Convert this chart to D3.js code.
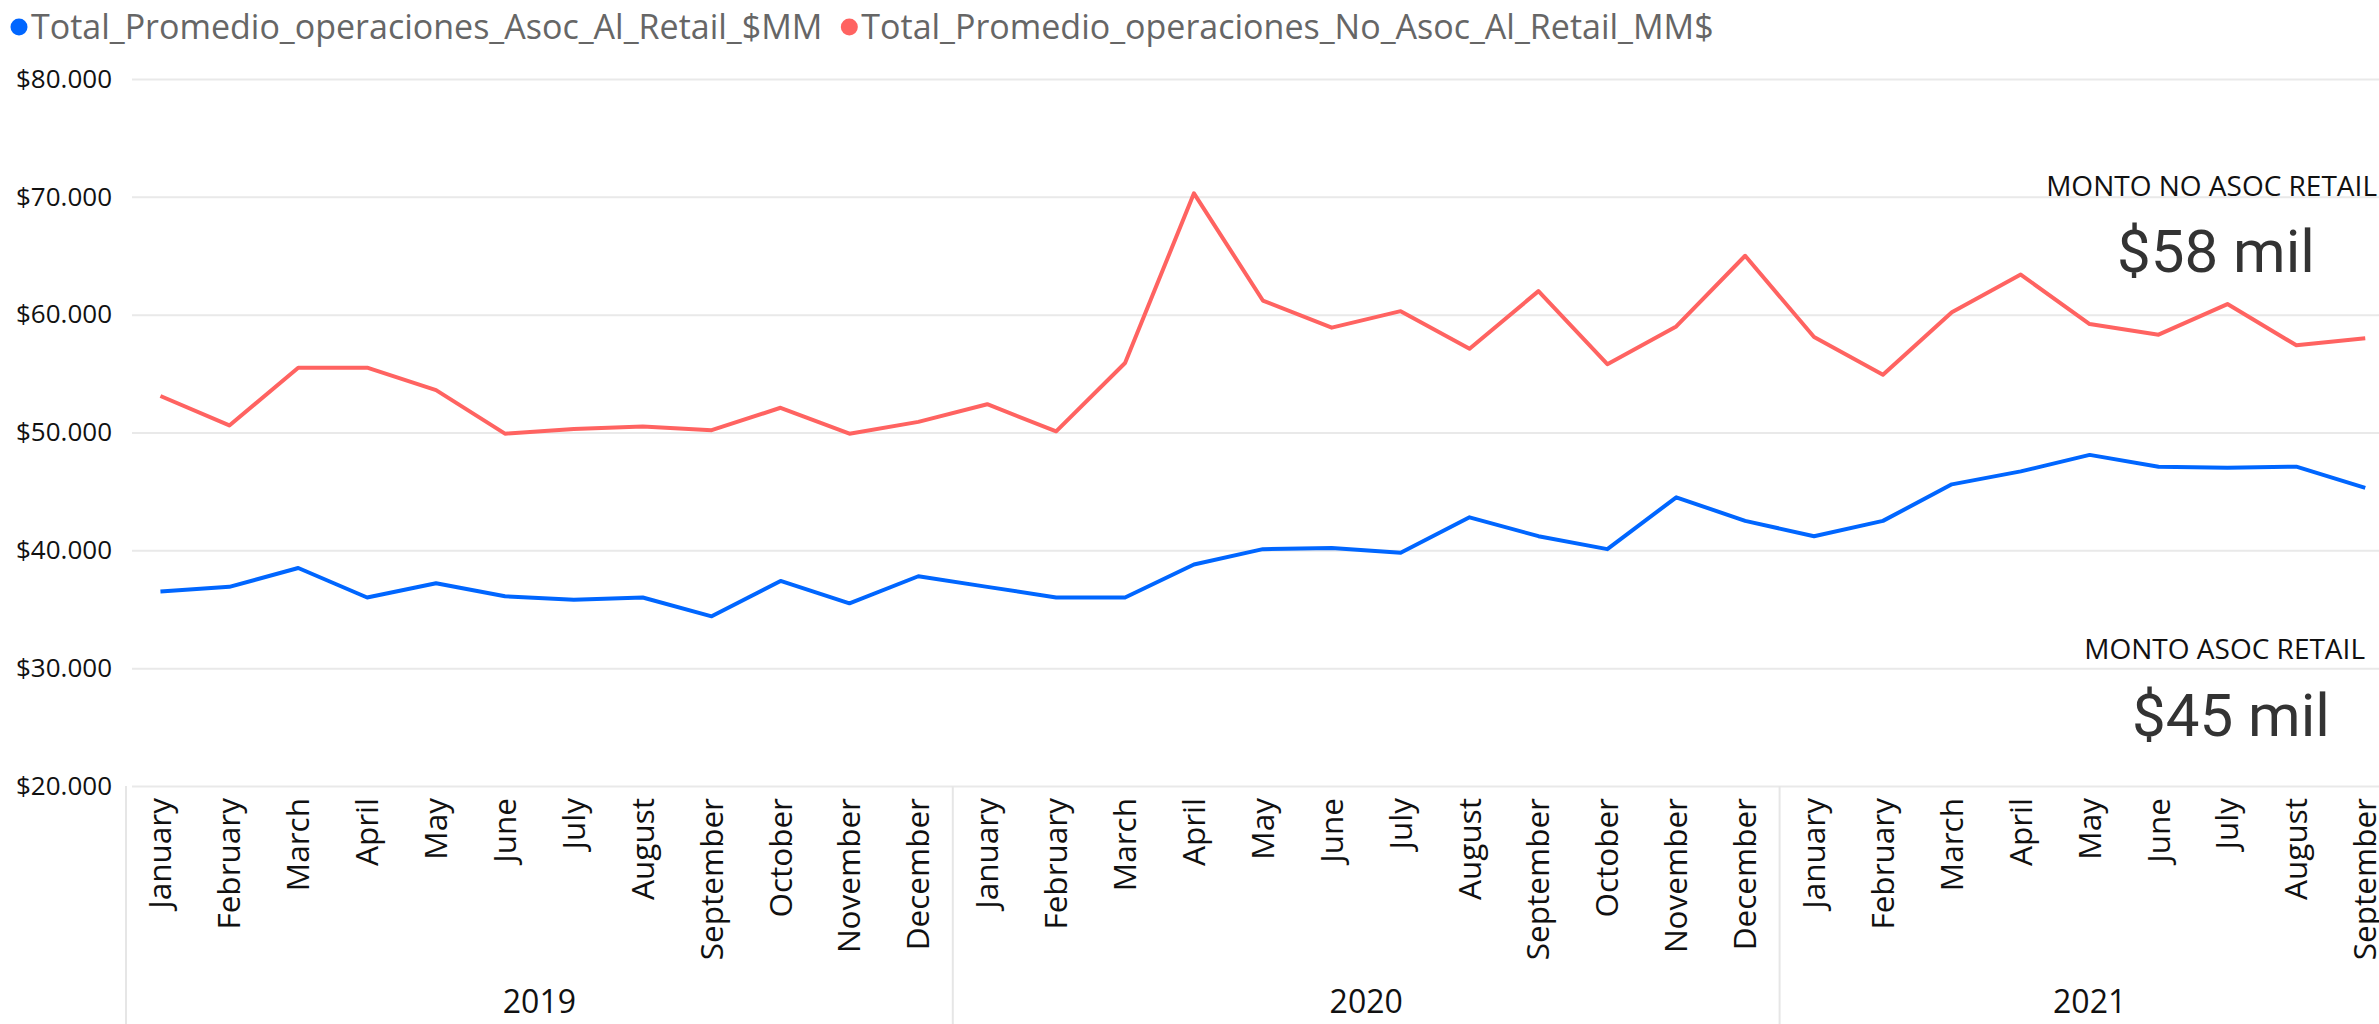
<!DOCTYPE html>
<html>
<head>
<meta charset="utf-8">
<script src="https://cdn.jsdelivr.net/npm/d3@7"></script>
<style>
  body { margin: 0; background: #fff; }
  svg text { font-family: "Segoe UI", "Open Sans", sans-serif; }
</style>
</head>
<body>
<div id="svg-container"></div>
<script>
var years = ["2019", "2020", "2021"];
var monthsPerYear = [12, 12, 9];
var monthNames = ["January", "February", "March", "April", "May", "June",
  "July", "August", "September", "October", "November", "December"];

// monthly averages, $MM
var asocRetail = [36500, 36900, 38500, 36000, 37200, 36100, 35800, 36000, 34400, 37400, 35500, 37800,
  36900, 36000, 36000, 38800, 40100, 40200, 39800, 42800, 41200, 40100, 44500, 42500,
  41200, 42500, 45600, 46700, 48100, 47100, 47000, 47100, 45300];
var noAsocRetail = [53100, 50600, 55500, 55500, 53600, 49900, 50300, 50500, 50200, 52100, 49900, 50900,
  52400, 50100, 55900, 70300, 61200, 58900, 60300, 57100, 62000, 55800, 59000, 65000,
  58100, 54900, 60200, 63400, 59200, 58300, 60900, 57400, 58000];

var yTicks = [20000, 30000, 40000, 50000, 60000, 70000, 80000];
var seriesNames = ["Total_Promedio_operaciones_Asoc_Al_Retail_$MM", "Total_Promedio_operaciones_No_Asoc_Al_Retail_MM$"];
var seriesColors = ["#0066ff", "#ff6361"];
var cardLabels = ["MONTO NO ASOC RETAIL", "MONTO ASOC RETAIL"];

(function () {
  var width = 2379, height = 1024;
  var left = 126, top = 79, bottom = 786;

  var periods = [];
  years.forEach(function (yr, i) {
    for (var m = 0; m < monthsPerYear[i]; m++) {
      periods.push({ id: yr + "-" + m, year: yr, month: monthNames[m] });
    }
  });

  var svg = d3.select("#svg-container")
    .append("svg")
    .attr("width", width)
    .attr("height", height);

  var x = d3.scaleBand()
    .domain(periods.map(function (d) { return d.id; }))
    .range([left, left + periods.length * 68.9]);
  var y = d3.scaleLinear().domain([20000, 80000]).range([bottom, top]);

  var loc = d3.formatLocale({ decimal: ",", thousands: ".", grouping: [3], currency: ["$", ""] });
  var fmt = loc.format("$,.0f");

  // y axis + gridlines
  var yAxis = svg.append("g")
    .attr("transform", "translate(132,0)")
    .call(d3.axisLeft(y).tickValues(yTicks).tickFormat(fmt)
      .tickSize(-(width - 132)).tickPadding(20));
  yAxis.select(".domain").remove();
  yAxis.selectAll(".tick line").attr("stroke", "#e9e9e9").attr("stroke-width", 2);
  yAxis.selectAll(".tick text").attr("font-size", 26).attr("fill", "#111");

  // month labels
  var xAxis = svg.append("g")
    .attr("transform", "translate(0," + bottom + ")")
    .call(d3.axisBottom(x).tickSize(0)
      .tickFormat(function (id) { return monthNames[+id.split("-")[1]]; }));
  xAxis.select(".domain").remove();
  xAxis.selectAll(".tick text")
    .attr("transform", "rotate(-90)")
    .attr("text-anchor", "end")
    .attr("x", -12)
    .attr("y", 0)
    .attr("dy", ".35em")
    .attr("font-size", 31.5)
    .attr("fill", "#111");

  // year separators and labels
  var yearInfo = years.map(function (yr) {
    var ps = periods.filter(function (p) { return p.year === yr; });
    var x0 = x(ps[0].id), x1 = x(ps[ps.length - 1].id) + x.bandwidth();
    return { year: yr, x0: x0, x1: x1 };
  });
  svg.selectAll(".yearSep")
    .data(yearInfo)
    .enter()
    .append("line")
    .attr("class", "yearSep")
    .attr("x1", function (d) { return d.x0; })
    .attr("x2", function (d) { return d.x0; })
    .attr("y1", bottom)
    .attr("y2", height)
    .attr("stroke", "#e6e6e6")
    .attr("stroke-width", 2);
  svg.selectAll(".yearLabel")
    .data(yearInfo)
    .enter()
    .append("text")
    .attr("class", "yearLabel")
    .attr("x", function (d) { return (d.x0 + d.x1) / 2; })
    .attr("y", 1013)
    .attr("text-anchor", "middle")
    .attr("font-size", 32)
    .attr("fill", "#111")
    .text(function (d) { return d.year; });

  // lines
  var line = d3.line()
    .x(function (d) { return x(d.id) + x.bandwidth() / 2; })
    .y(function (d) { return y(d.v); });
  [asocRetail, noAsocRetail].forEach(function (vals, i) {
    svg.append("path")
      .datum(periods.map(function (p, j) { return { id: p.id, v: vals[j] }; }))
      .attr("fill", "none")
      .attr("stroke", seriesColors[i])
      .attr("stroke-width", 4)
      .attr("stroke-linejoin", "round")
      .attr("d", line);
  });

  // cards
  var cards = [
    { label: cardLabels[0], value: noAsocRetail[noAsocRetail.length - 1], lx: 2377, ly: 196, vx: 2216, vy: 272 },
    { label: cardLabels[1], value: asocRetail[asocRetail.length - 1], lx: 2365, ly: 659, vx: 2231, vy: 736 }
  ];
  cards.forEach(function (c) {
    svg.append("text")
      .attr("x", c.lx).attr("y", c.ly)
      .attr("text-anchor", "end")
      .attr("font-size", 28)
      .attr("fill", "#111")
      .text(c.label);
    svg.append("text")
      .attr("x", c.vx).attr("y", c.vy)
      .attr("text-anchor", "middle")
      .attr("font-size", 60)
      .attr("fill", "#333")
      .style("font-family", "Roboto, sans-serif")
      .text("$" + Math.round(c.value / 1000) + " mil");
  });

  // legend
  var lx = 19;
  seriesNames.forEach(function (name, i) {
    svg.append("circle")
      .attr("cx", lx).attr("cy", 27).attr("r", 8.5)
      .attr("fill", seriesColors[i]);
    var t = svg.append("text")
      .attr("x", lx + 12).attr("y", 39)
      .attr("font-size", 34)
      .attr("fill", "#666")
      .text(name);
    lx += 12 + t.node().getComputedTextLength() + 27;
  });
}());
</script>
</body>
</html>
